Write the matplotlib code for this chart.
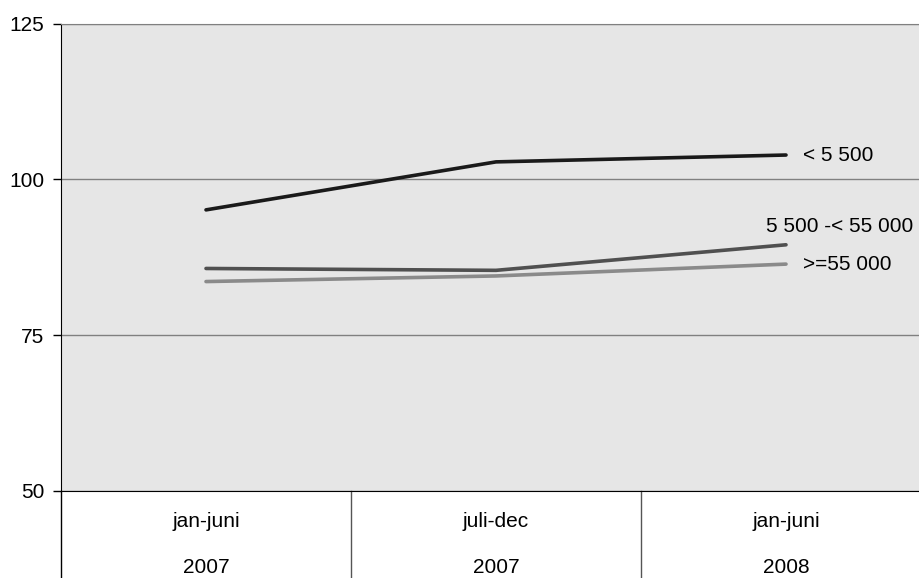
import matplotlib.pyplot as plt

plt.rcParams['font.family'] = ['Liberation Sans', 'DejaVu Sans']

periods = ['jan-juni', 'juli-dec', 'jan-juni']
years = ['2007', '2007', '2008']
series_names = ['< 5 500', '5 500 -< 55 000', '>=55 000']
small = [95.1, 102.8, 103.9]
medium = [85.7, 85.4, 89.5]
large = [83.6, 84.5, 86.4]
colors = ['#1a1a1a', '#505050', '#8a8a8a']

fig = plt.figure(figsize=(9.2, 5.78), dpi=100)
# axes deliberately runs past the right edge, like the cropped original
ax = fig.add_axes([61 / 920, 87 / 578, 870 / 920, 467.5 / 578])
ax.set_facecolor('#e6e6e6')

x = range(len(periods))
for vals, c in zip([small, medium, large], colors):
    ax.plot(x, vals, color=c, linewidth=2.6, solid_capstyle='round')

ax.set_xlim(-0.5, 2.5)
ax.set_ylim(50, 125)
ax.set_yticks([50, 75, 100, 125])
ax.tick_params(axis='y', labelsize=15, length=6, width=1, pad=6)
ax.set_xticks([])
ax.grid(axis='y', color='#808080', linewidth=1)

ax.spines['right'].set_visible(False)
ax.spines['top'].set_color('#808080')
ax.spines['left'].set_color('black')
ax.spines['bottom'].set_color('black')

# end labels
ax.text(2.06, small[-1], series_names[0], fontsize=15, va='center', ha='left')
ax.text(1.93, 92.4, series_names[1], fontsize=15, va='center', ha='left')
ax.text(2.06, large[-1], series_names[2], fontsize=15, va='center', ha='left')

# category axis below the plot
tr = ax.get_xaxis_transform()
for i, xs in enumerate([-0.5, 0.5, 1.5]):
    ax.plot([xs, xs], [0, -0.25], transform=tr, clip_on=False,
            color='black' if i == 0 else '#555555', linewidth=1)
for i, (p, yr) in enumerate(zip(periods, years)):
    ax.text(i, -0.066, p, transform=tr, ha='center', va='center', fontsize=15)
    ax.text(i, -0.163, yr, transform=tr, ha='center', va='center', fontsize=15)

plt.savefig('out.png', dpi=100)
